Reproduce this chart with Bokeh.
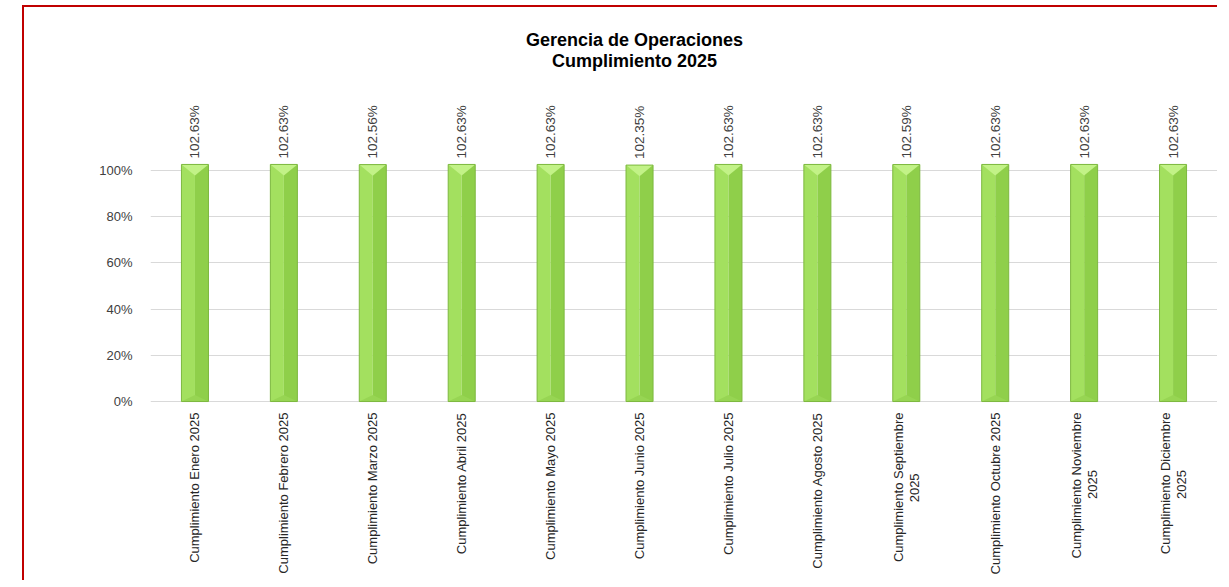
from math import pi
from bokeh.plotting import figure
from bokeh.models import (ColumnDataSource, Range1d, FixedTicker, NumeralTickFormatter, LabelSet)
from bokeh.core.properties import value
from bokeh.embed import file_html
from bokeh.resources import INLINE

# ---- data ----
categories = ["Cumplimiento Enero 2025", "Cumplimiento Febrero 2025", "Cumplimiento Marzo 2025",
              "Cumplimiento Abril 2025", "Cumplimiento Mayo 2025", "Cumplimiento Junio 2025",
              "Cumplimiento Julio 2025", "Cumplimiento Agosto 2025", "Cumplimiento Septiembre\n2025",
              "Cumplimiento Octubre 2025", "Cumplimiento Noviembre\n2025", "Cumplimiento Diciembre\n2025"]
values = [1.0263, 1.0263, 1.0256, 1.0263, 1.0263, 1.0235,
          1.0263, 1.0263, 1.0259, 1.0263, 1.0263, 1.0263]
y_ticks = [0, 0.2, 0.4, 0.6, 0.8, 1.0]
title_lines = ["Gerencia de Operaciones", "Cumplimiento 2025"]

FONT = "Liberation Sans"
n = len(categories)
centers = [i + 0.5 for i in range(n)]
bw = 0.304
bev = 0.048

src = ColumnDataSource(dict(
    c=centers, left=[c - bw / 2 for c in centers], right=[c + bw / 2 for c in centers],
    top=values, label=[f"{v * 100:.2f}%" for v in values],
))
tri = ColumnDataSource(dict(
    xs=[[c - bw / 2, c + bw / 2, c] for c in centers],
    ys=[[v, v, v - bev] for v in values],
))
tri_b = ColumnDataSource(dict(
    xs=[[c - bw / 2, c + bw / 2, c] for c in centers],
    ys=[[0, 0, bev * 0.6] for v in values],
))

# category labels: first line and (optional) second line, centred on each other
first = [c.split("\n")[0] for c in categories]
second = [c.split("\n")[1] if "\n" in c else "" for c in categories]
two = [s != "" for s in second]
cat1 = ColumnDataSource(dict(x=centers, y=[0] * n, text=first,
                             xo=[-8.0 if t else 0.0 for t in two]))
cat2 = ColumnDataSource(dict(x=[c for c, t in zip(centers, two) if t],
                             y=[0] * sum(two),
                             text=[s for s in second if s],
                             yo=[-(11 + len(f) * 6.55 / 2) for f, t in zip(first, two) if t]))

p = figure(width=1195, height=575, output_backend="svg", toolbar_location=None,
           x_range=Range1d(0, n), y_range=Range1d(-0.766, 1.671),
           min_border_left=126, min_border_right=2, min_border_top=8, min_border_bottom=4)
p.margin = (5, 0, 0, 22)
p.styles = {"border-left": "2px solid #c00000", "border-top": "2px solid #c00000"}
p.outline_line_color = None
p.background_fill_color = "white"
p.border_fill_color = "white"

# chart title (two centred lines)
p.text(x=[5.443, 5.443], y=[1.5628, 1.4762], text=title_lines,
       text_font=value(FONT), text_font_size="18px", text_font_style="bold",
       text_color="#000000", text_align="center", text_baseline="middle")

# bars
p.quad(left="left", right="c", bottom=0, top="top", source=src,
       fill_color="#a3e05f", line_color=None)
p.quad(left="c", right="right", bottom=0, top="top", source=src,
       fill_color="#8fcf4a", line_color=None)
p.patches(xs="xs", ys="ys", source=tri, fill_color="#c2f287", line_color=None)
p.patches(xs="xs", ys="ys", source=tri_b, fill_color="#97d553", line_color=None)
p.quad(left="left", right="right", bottom=0, top="top", source=src,
       fill_color=None, line_color="#7db83f", line_width=1)

labels = LabelSet(x="c", y="top", text="label", source=src, angle=pi / 2,
                  text_align="left", text_baseline="middle", y_offset=6,
                  text_font=value(FONT), text_font_size="13.5px", text_color="#404040")
p.add_layout(labels)

lab1 = LabelSet(x="x", y="y", text="text", source=cat1, angle=pi / 2,
                text_align="right", text_baseline="middle", x_offset="xo", y_offset=-11,
                text_font=value(FONT), text_font_size="13px", text_color="#262626")
lab2 = LabelSet(x="x", y="y", text="text", source=cat2, angle=pi / 2,
                text_align="center", text_baseline="middle", x_offset=8.0, y_offset="yo",
                text_font=value(FONT), text_font_size="13px", text_color="#262626")
p.add_layout(lab1)
p.add_layout(lab2)

# axes (category axis drawn as labels above; baseline is the 0% grid line)
p.xaxis.visible = False

p.yaxis.ticker = FixedTicker(ticks=y_ticks)
p.yaxis.formatter = NumeralTickFormatter(format="0%")
p.yaxis.major_label_text_font = FONT
p.yaxis.major_label_text_font_size = "13px"
p.yaxis.major_label_text_color = "#404040"
p.yaxis.axis_line_color = None
p.yaxis.major_tick_line_color = None
p.yaxis.minor_tick_line_color = None
p.yaxis.major_label_standoff = 12

p.xgrid.grid_line_color = None
p.ygrid.ticker = FixedTicker(ticks=y_ticks)
p.ygrid.grid_line_color = "#d9d9d9"
p.ygrid.level = "underlay"

open("out.html", "w").write(file_html(p, INLINE))
